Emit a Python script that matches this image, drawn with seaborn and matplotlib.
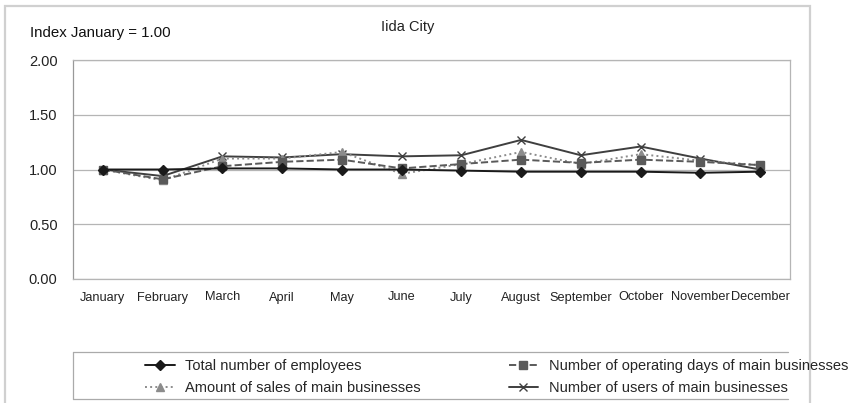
import pandas as pd
import matplotlib.pyplot as plt
import seaborn as sns
from matplotlib.patches import Rectangle
from matplotlib.lines import Line2D

months = ["January", "February", "March", "April", "May", "June", "July",
          "August", "September", "October", "November", "December"]

employees = [1.00, 1.00, 1.01, 1.01, 1.00, 1.00, 0.99, 0.98, 0.98, 0.98, 0.97, 0.98]
operating_days = [1.00, 0.91, 1.03, 1.07, 1.09, 1.01, 1.05, 1.09, 1.06, 1.09, 1.07, 1.04]
sales = [1.00, 0.90, 1.10, 1.10, 1.16, 0.96, 1.05, 1.16, 1.05, 1.14, 1.08, 1.04]
users = [1.00, 0.94, 1.12, 1.11, 1.14, 1.12, 1.13, 1.27, 1.13, 1.21, 1.10, 1.00]

y_ticks = [0.0, 0.5, 1.0, 1.5, 2.0]

sns.set_style("white")
plt.rcParams['font.family'] = ['Liberation Sans', 'DejaVu Sans']

fig = plt.figure(figsize=(8.56, 4.03), dpi=100)
ax = fig.add_axes([73 / 856, 1 - 279 / 403, (790 - 73) / 856, (279 - 60) / 403])

df = pd.DataFrame({"month": months, "emp": employees, "days": operating_days,
                   "sales": sales, "users": users})

series = [
    ("emp", "Total number of employees", "#1a1a1a", "-", "D", 5),
    ("sales", "Amount of sales of main businesses", "#8c8c8c", ":", "^", 6),
    ("days", "Number of operating days of main businesses", "#5a5a5a", "--", "s", 6),
    ("users", "Number of users of main businesses", "#3f3f3f", "-", "x", 6),
]
# draw order: users behind, employees on top
for col, label, color, ls, mk, ms in [series[3], series[1], series[2], series[0]]:
    sns.lineplot(data=df, x="month", y=col, ax=ax, color=color, linestyle=ls,
                 marker=mk, markersize=ms, markeredgecolor=color,
                 markeredgewidth=1.0, linewidth=1.4, label=label, sort=False)

ax.set_xlim(-0.5, len(months) - 0.5)
ax.set_ylim(0, 2.0)
ax.set_yticks(y_ticks)
ax.set_yticklabels([f"{v:.2f}" for v in y_ticks], fontsize=10.5, color="#222222")
ax.set_xticks(range(len(months)))
ax.set_xticklabels(months, fontsize=9.2, color="#222222")
ax.set_xticks([i + 0.5 for i in range(-1, len(months) - 1)], minor=True)
ax.tick_params(axis="x", which="major", length=0, pad=9)
ax.tick_params(axis="x", which="minor", length=4, color="#999999", direction="out")
ax.tick_params(axis="y", length=3.6, color="#999999", direction="out", pad=7.5)
ax.grid(axis="y", color="#b5b5b5", linewidth=0.9)
ax.set_axisbelow(True)
ax.set_xlabel("")
ax.set_ylabel("")
for side in ["left", "right", "top", "bottom"]:
    ax.spines[side].set_visible(True)
    ax.spines[side].set_color("#b5b5b5")
    ax.spines[side].set_linewidth(0.9)
ax.spines["left"].set_color("#999999")

handles, labels = ax.get_legend_handles_labels()
order = [labels.index(s[1]) for s in series]
ax.get_legend().remove()
fig.legend([handles[i] for i in order], [labels[i] for i in order], ncol=2,
           loc="center left", bbox_to_anchor=(138 / 856, 1 - 377 / 403),
           frameon=False, fontsize=10.5, handlelength=2.05, columnspacing=6.0,
           labelspacing=0.5, handletextpad=0.7, borderpad=0)

# legend box (open on the right) and outer chart frame
box_l, box_r, box_t, box_b = 73 / 856, 788 / 856, 1 - 352 / 403, 1 - 399 / 403
for xs, ys in [((box_l, box_r), (box_t, box_t)), ((box_l, box_r), (box_b, box_b)),
               ((box_l, box_l), (box_b, box_t))]:
    fig.lines.append(Line2D(xs, ys, transform=fig.transFigure,
                            color="#aaaaaa", linewidth=0.9))
fig.patches.append(Rectangle((5 / 856, -0.05), (810 - 5) / 856, 1 - 6 / 403 + 0.05,
                             transform=fig.transFigure, fill=False,
                             edgecolor="#d0d0d0", linewidth=1.6))

fig.text(30 / 856, 1 - 33 / 403, "Index January = 1.00", fontsize=10.8,
         color="#111111", va="center", ha="left")
fig.text(408 / 856, 1 - 27 / 403, "Iida City", fontsize=10.5,
         color="#222222", va="center", ha="center")

fig.savefig("out.png", dpi=100)
